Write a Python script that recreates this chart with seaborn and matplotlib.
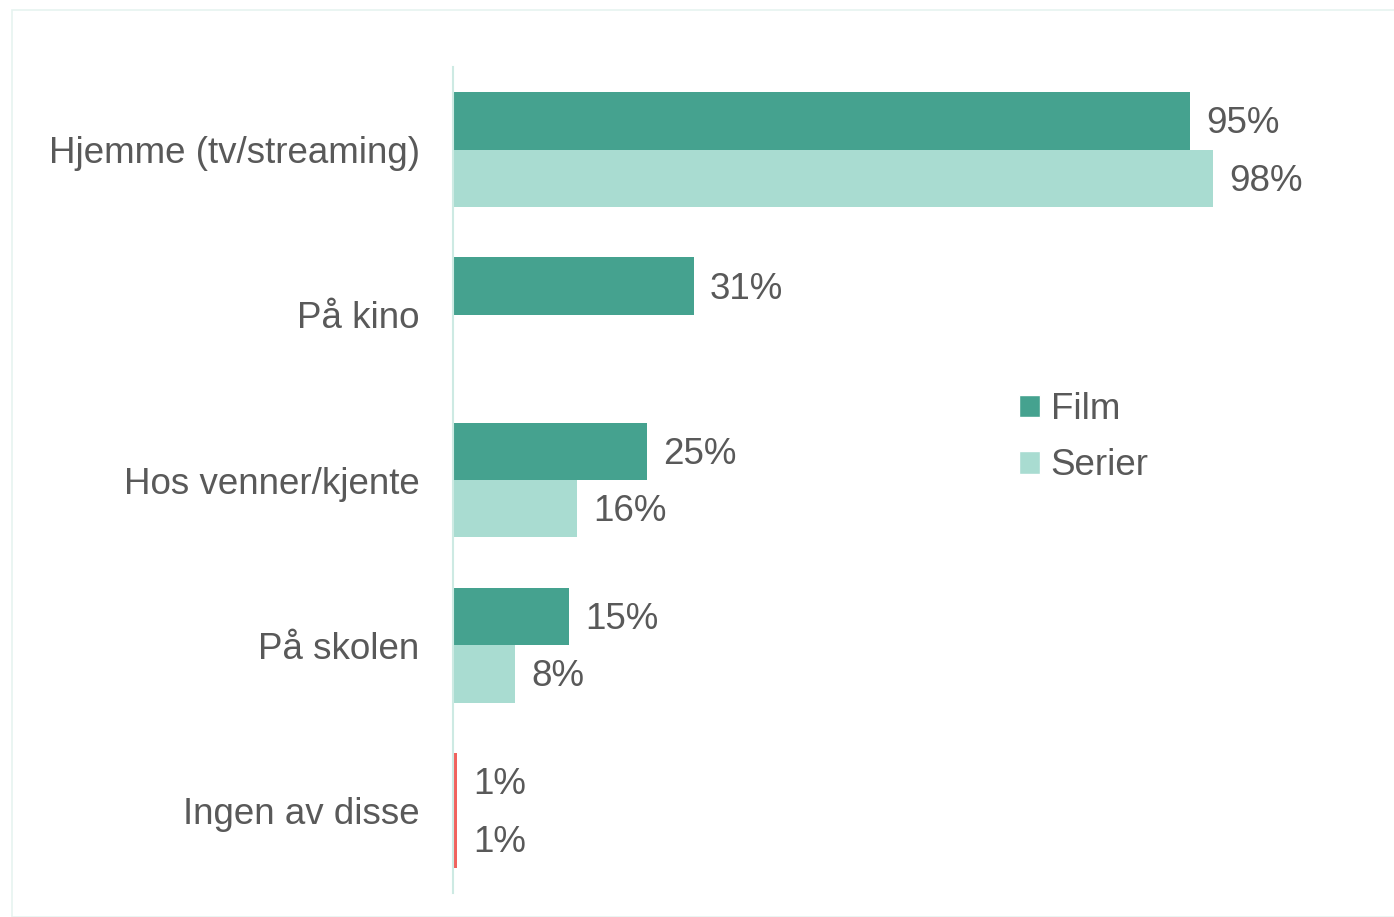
import matplotlib
matplotlib.use("Agg")
import matplotlib.pyplot as plt
import seaborn as sns
import pandas as pd
import numpy as np
from matplotlib.patches import Rectangle

# data
steder = ["Hjemme (tv/streaming)", "På kino", "Hos venner/kjente", "På skolen", "Ingen av disse"]
film = [95, 31, 25, 15, 0.5]
serier = [98, np.nan, 16, 8, 0.5]
film_txt = ["95%", "31%", "25%", "15%", "1%"]
serier_txt = ["98%", "", "16%", "8%", "1%"]

df = pd.DataFrame({
    "sted": steder * 2,
    "andel": film + serier,
    "type": ["Film"] * 5 + ["Serier"] * 5,
})

sns.set_theme(style="white")
plt.rcParams["font.family"] = ["Liberation Sans", "DejaVu Sans"]

tekst = "#595959"
farger = {"Film": "#45A28F", "Serier": "#A9DCD1"}
rod = "#F0625D"
fs = 26.5

fig = plt.figure(figsize=(13.94, 9.17), dpi=100)
fig.patches.append(Rectangle((12 / 1394, 0), 1.0, 1 - 10 / 917, transform=fig.transFigure,
                             fill=False, edgecolor="#E6F3F0", linewidth=1.2))
ax = fig.add_axes([453 / 1394, 24 / 917, 931 / 1394, 826 / 917])

sns.barplot(data=df, y="sted", x="andel", hue="type", order=steder,
            hue_order=["Film", "Serier"], palette=farger, orient="h",
            width=0.695, saturation=1, ax=ax, legend=True)

ax.set_xlim(0, 120)
ax.set_ylim(4.5, -0.5)

# value labels, red bars for "Ingen av disse"
for cont, txt in zip(ax.containers, [film_txt, serier_txt]):
    for bar in cont:
        w = bar.get_width()
        if np.isnan(w):
            continue
        yc = bar.get_y() + bar.get_height() / 2
        i = int(round(yc))
        bar.set_linewidth(0)
        if i == 4:
            bar.set_facecolor(rod)
        ax.text(w + 2.1, yc + 0.018, txt[i], va="center", ha="left", fontsize=fs, color=tekst)

ax.set_xlabel("")
ax.set_ylabel("")
ax.set_xticks([])
ax.tick_params(axis="y", length=0, pad=24, labelsize=fs, labelcolor=tekst)
for s in ["top", "right", "bottom"]:
    ax.spines[s].set_visible(False)
ax.spines["left"].set_color("#CDEAE3")
ax.spines["left"].set_linewidth(1.5)

handles, labels = ax.get_legend_handles_labels()
ax.legend(handles, labels, loc="upper left", bbox_to_anchor=(1019 / 1394, 1 - 392 / 917),
          bbox_transform=fig.transFigure, frameon=False, fontsize=fs,
          handlelength=0.56, handleheight=0.56, handletextpad=0.3,
          labelspacing=0.58, labelcolor=tekst, borderpad=0, borderaxespad=0)

fig.savefig("out.png", dpi=100, facecolor="white")
